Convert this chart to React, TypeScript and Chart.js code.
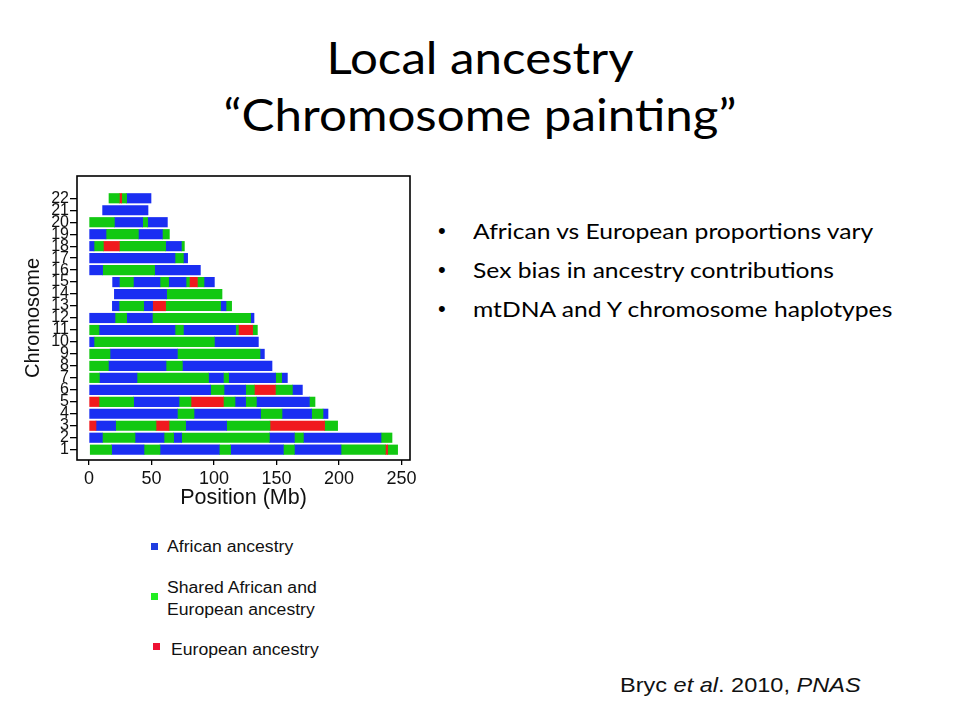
import React, { useEffect, useRef } from "react";
import { Chart, registerables } from "chart.js";

Chart.register(...registerables);

// Segment = [start Mb, end Mb, ancestry code]  A = African, S = Shared, E = European
type Seg = [number, number, string];

const chr1: Seg[] = [[1, 18.1, "S"], [18.1, 44, "A"], [44, 56.8, "S"], [56.8, 104.2, "A"], [104.2, 113.3, "S"], [113.3, 155.5, "A"], [155.5, 164.3, "S"], [164.3, 201.6, "A"], [201.6, 237.1, "S"], [237.1, 238.9, "E"], [238.9, 246.9, "S"]];
const chr2: Seg[] = [[0, 10.7, "A"], [10.7, 36.8, "S"], [36.8, 60, "A"], [60, 67.7, "S"], [67.7, 74.1, "A"], [74.1, 144.3, "S"], [144.3, 164.3, "A"], [164.3, 171.5, "S"], [171.5, 233.6, "A"], [233.6, 242.4, "S"]];
const chr3: Seg[] = [[0, 5.6, "E"], [5.6, 21.3, "A"], [21.3, 53.6, "S"], [53.6, 64, "E"], [64, 77.3, "S"], [77.3, 110.1, "A"], [110.1, 144.8, "S"], [144.8, 188.5, "E"], [188.5, 198.9, "S"]];
const chr4: Seg[] = [[0, 70.7, "A"], [70.7, 84, "S"], [84, 137.3, "A"], [137.3, 154.4, "S"], [154.4, 178.1, "A"], [178.1, 187.2, "S"], [187.2, 191.2, "A"]];
const chr5: Seg[] = [[0, 8, "E"], [8, 35.7, "S"], [35.7, 72, "A"], [72, 81.6, "S"], [81.6, 107.5, "E"], [107.5, 116.8, "S"], [116.8, 125.3, "A"], [125.3, 133.9, "S"], [133.9, 176.3, "A"], [176.3, 180.8, "S"]];
const chr6: Seg[] = [[0, 97.3, "A"], [97.3, 108, "S"], [108, 125.3, "A"], [125.3, 132.3, "S"], [132.3, 149.1, "E"], [149.1, 162.7, "S"], [162.7, 170.7, "A"]];
const chr7: Seg[] = [[0, 8.3, "S"], [8.3, 38.4, "A"], [38.4, 95.6, "S"], [95.6, 107.5, "A"], [107.5, 111.7, "S"], [111.7, 149.3, "A"], [149.3, 154.1, "S"], [154.1, 158.7, "A"]];
const chr8: Seg[] = [[0, 15.5, "S"], [15.5, 61.6, "A"], [61.6, 74.7, "S"], [74.7, 146.4, "A"]];
const chr9: Seg[] = [[0, 16.8, "S"], [16.8, 70.7, "A"], [70.7, 136.8, "S"], [136.8, 140.3, "A"]];
const chr10: Seg[] = [[0, 4, "A"], [4, 100.3, "S"], [100.3, 135.5, "A"]];
const chr11: Seg[] = [[0, 8, "S"], [8, 68.8, "A"], [68.8, 75.5, "S"], [75.5, 117.3, "A"], [117.3, 119.5, "S"], [119.5, 130.9, "E"], [130.9, 134.7, "S"]];
const chr12: Seg[] = [[0, 20.8, "A"], [20.8, 30.1, "S"], [30.1, 50.7, "A"], [50.7, 129.3, "S"], [129.3, 132, "A"]];
const chr13: Seg[] = [[18.7, 24, "A"], [24, 43.7, "S"], [43.7, 50.9, "A"], [50.9, 61.3, "E"], [61.3, 105.3, "S"], [105.3, 109.6, "A"], [109.6, 114.1, "S"]];
const chr14: Seg[] = [[20.3, 62.1, "A"], [62.1, 106.4, "S"]];
const chr15: Seg[] = [[18.9, 24.3, "A"], [24.3, 35.5, "S"], [35.5, 56.8, "A"], [56.8, 63.7, "S"], [63.7, 77.6, "A"], [77.6, 80.3, "S"], [80.3, 86.7, "E"], [86.7, 92, "S"], [92, 100.3, "A"]];
const chr16: Seg[] = [[0, 10.9, "A"], [10.9, 52.5, "S"], [52.5, 89.1, "A"]];
const chr17: Seg[] = [[0, 68.8, "A"], [68.8, 75.5, "S"], [75.5, 78.9, "A"]];
const chr18: Seg[] = [[0, 4, "A"], [4, 11.5, "S"], [11.5, 24.3, "E"], [24.3, 61.3, "S"], [61.3, 73.9, "A"], [73.9, 76.3, "S"]];
const chr19: Seg[] = [[0, 13.6, "A"], [13.6, 39.5, "S"], [39.5, 58.7, "A"], [58.7, 64.3, "S"]];
const chr20: Seg[] = [[0, 20.3, "S"], [20.3, 42.9, "A"], [42.9, 46.9, "S"], [46.9, 62.7, "A"]];
const chr21: Seg[] = [[10.9, 47.2, "A"]];
const chr22: Seg[] = [[16, 24.3, "S"], [24.3, 26.1, "E"], [26.1, 30.1, "S"], [30.1, 49.6, "A"]];

const CHROMOSOMES = ["1", "2", "3", "4", "5", "6", "7", "8", "9", "10", "11", "12", "13", "14", "15", "16", "17", "18", "19", "20", "21", "22"];
const CHR_SEGMENTS = [chr1, chr2, chr3, chr4, chr5, chr6, chr7, chr8, chr9, chr10, chr11, chr12, chr13, chr14, chr15, chr16, chr17, chr18, chr19, chr20, chr21, chr22];
const X_TICKS = [0, 50, 100, 150, 200, 250];

const ANCESTRY_CODES = ["A", "S", "E"];
const ANCESTRY_LABELS = ["African ancestry", "Shared African and\nEuropean ancestry", "European ancestry"];
const BAR_COLORS: Record<string, string> = { A: "#1a2ef2", S: "#12c812", E: "#f01a1e" };
const LEGEND_COLORS: Record<string, string> = { A: "#1f3de0", S: "#22ee22", E: "#ee1133" };

const TITLE_LINES = ["Local ancestry", "\u201CChromosome painting\u201D"];
const BULLETS = ["African vs European proportions vary", "Sex bias in ancestry contributions", "mtDNA and Y chromosome haplotypes"];

const AXIS_FONT = "'Liberation Sans', Arial, Helvetica, sans-serif";
const SLIDE_FONT = "Lato, 'Open Sans', sans-serif";

const framePlugin = {
  id: "frame",
  afterDatasetsDraw(chart: any) {
    const { ctx, chartArea } = chart;
    ctx.save();
    ctx.strokeStyle = "#000";
    ctx.lineWidth = 1.6;
    ctx.strokeRect(chartArea.left, chartArea.top, chartArea.right - chartArea.left, chartArea.bottom - chartArea.top);
    ctx.restore();
  },
};

function ChromosomeChart() {
  const ref = useRef<HTMLCanvasElement | null>(null);
  useEffect(() => {
    if (!ref.current) return;
    const maxSeg = Math.max(...CHR_SEGMENTS.map((s) => s.length));
    const datasets: any[] = [];
    for (let k = 0; k < maxSeg; k++) {
      const data: any[] = [];
      CHR_SEGMENTS.forEach((segs, i) => {
        const s = segs[k];
        if (s) data.push({ x: [s[0], s[1]], y: Number(CHROMOSOMES[i]), code: s[2] });
      });
      datasets.push({
        label: "segment " + (k + 1),
        data,
        backgroundColor: (c: any) => (c.raw ? BAR_COLORS[c.raw.code] : "#000"),
        borderWidth: 0,
        barThickness: 9.5,
        grouped: false,
      });
    }
    const chart = new Chart(ref.current, {
      type: "bar",
      data: { datasets },
      options: {
        animation: false,
        responsive: false,
        indexAxis: "y",
        layout: { padding: { top: 16, right: 20, left: 0, bottom: 0 } },
        plugins: { legend: { display: false }, tooltip: { enabled: false } },
        scales: {
          x: {
            type: "linear",
            min: -9.6,
            max: 256.8,
            offset: false,
            afterBuildTicks: (s: any) => {
              s.ticks = X_TICKS.map((v) => ({ value: v }));
            },
            afterFit: (s: any) => {
              s.height = 60;
            },
            grid: { drawOnChartArea: false, tickLength: 5, color: "#000", lineWidth: 1.3, offset: false },
            border: { display: false },
            ticks: { color: "#111", font: { family: AXIS_FONT, size: 18 }, padding: 3, maxRotation: 0, autoSkip: false },
            title: { display: true, text: "Position (Mb)", color: "#111", font: { family: AXIS_FONT, size: 21.5 }, padding: { top: 0, bottom: 9 } },
          },
          y: {
            type: "linear",
            min: 0.14,
            max: 23.86,
            offset: false,
            afterBuildTicks: (s: any) => {
              s.ticks = CHROMOSOMES.map((c) => ({ value: Number(c) }));
            },
            afterFit: (s: any) => {
              s.width = 77;
            },
            grid: { drawOnChartArea: false, tickLength: 7, color: "#000", lineWidth: 1.3, offset: false },
            border: { display: false },
            ticks: { color: "#111", font: { family: AXIS_FONT, size: 16 }, padding: 1, autoSkip: false, callback: (v: any) => String(v) },
            title: { display: true, text: "Chromosome", color: "#111", font: { family: AXIS_FONT, size: 20 }, padding: { top: 21, bottom: 0 } },
          },
        },
      } as any,
      plugins: [framePlugin],
    });
    return () => chart.destroy();
  }, []);
  return <canvas ref={ref} width={430} height={360} style={{ position: "absolute", left: 0, top: 160, width: 430, height: 360 }} />;
}

export default function App() {
  const legendTops = [535.5, 577.2, 638.8];
  const legendSquares = [[151, 543], [151, 593], [153, 643]];
  const legendLefts = [167, 167, 170.5];
  return (
    <div style={{ position: "absolute", left: 0, top: 0, width: 960, height: 720, background: "#fff", overflow: "hidden" }}>
      {TITLE_LINES.map((t, i) => (
        <div key={t} style={{ position: "absolute", left: 0, width: 960, top: i === 0 ? 31 : 88, textAlign: "center", fontFamily: SLIDE_FONT, fontSize: 44, lineHeight: "52.8px", color: "#000", whiteSpace: "nowrap", transform: "scaleX(1.12)", transformOrigin: "480px 0" }}>
          {t}
        </div>
      ))}
      {BULLETS.map((b, i) => (
        <React.Fragment key={b}>
          <div style={{ position: "absolute", left: 438, top: 218.3 + i * 38.6, fontFamily: "Arial, sans-serif", fontSize: 22, lineHeight: "26.4px", color: "#000" }}>{"\u2022"}</div>
          <div style={{ position: "absolute", left: 473, top: 218.3 + i * 38.6, fontFamily: SLIDE_FONT, fontSize: 22, lineHeight: "26.4px", color: "#000", whiteSpace: "nowrap", transform: "scaleX(1.12)", transformOrigin: "0 0" }}>
            {b}
          </div>
        </React.Fragment>
      ))}
      <ChromosomeChart />
      {ANCESTRY_CODES.map((c, i) => (
        <React.Fragment key={c}>
          <div style={{ position: "absolute", left: legendSquares[i][0], top: legendSquares[i][1], width: 7, height: 7, background: LEGEND_COLORS[c] }} />
          <div style={{ position: "absolute", left: legendLefts[i], top: legendTops[i], fontFamily: AXIS_FONT, fontSize: 16, lineHeight: "21.6px", color: "#111", whiteSpace: "pre", transform: "scaleX(1.1)", transformOrigin: "0 0" }}>
            {ANCESTRY_LABELS[i]}
          </div>
        </React.Fragment>
      ))}
      <div style={{ position: "absolute", left: 620, top: 673, fontFamily: AXIS_FONT, fontSize: 21, lineHeight: "23.5px", color: "#111", whiteSpace: "nowrap", transform: "scaleX(1.12)", transformOrigin: "0 0" }}>
        Bryc <i>et al</i>. 2010, <i>PNAS</i>
      </div>
    </div>
  );
}
